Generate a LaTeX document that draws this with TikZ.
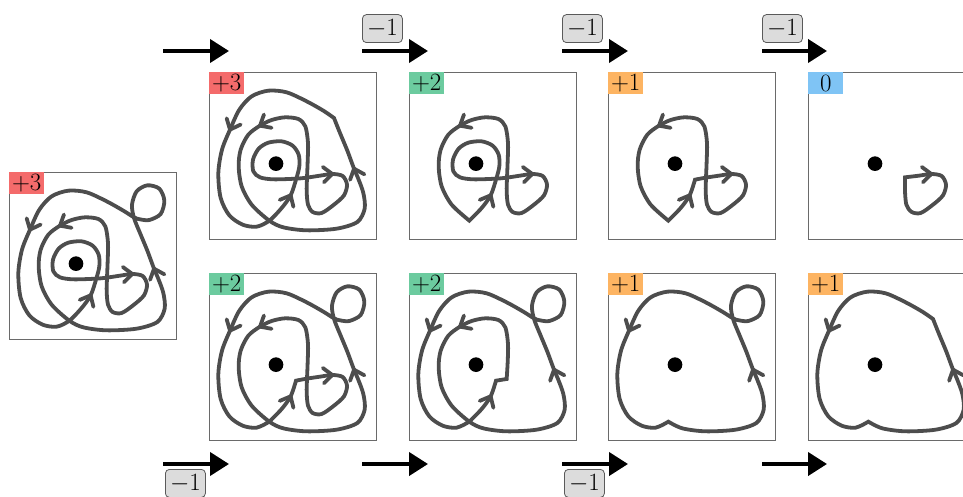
\documentclass[tikz,border=0pt]{standalone}
\usetikzlibrary{arrows.meta}

\definecolor{knotgray}{HTML}{4D4D4D}
\definecolor{boxgray}{HTML}{6A6A6A}
\definecolor{labred}{HTML}{F46B6B}
\definecolor{labgreen}{HTML}{6CCB9F}
\definecolor{laborange}{HTML}{FDB462}
\definecolor{labblue}{HTML}{7FC4F5}
\definecolor{decfill}{HTML}{DCDCDC}
\definecolor{decborder}{HTML}{5A5A5A}

\tikzset{
  knot/.style={draw=knotgray, line width=3.8pt, line join=miter, line cap=round},
  panel/.style={draw=boxgray, line width=1pt, minimum size=167pt, inner sep=0pt, anchor=north west},
  tag/.style={anchor=north west, inner sep=0pt, minimum width=35pt, minimum height=22pt,
    font=\fontsize{25}{25}\selectfont},
  dec/.style={draw=decborder, fill=decfill, rounded corners=4pt, inner sep=0pt,
    minimum width=40pt, minimum height=28pt, line width=0.8pt, font=\fontsize{25}{25}\selectfont},
  bigarrow/.style={line width=4pt, -{Triangle[length=19pt, width=23pt]}},
  local/.style={x=0.33333pt, y=-0.33333pt}
}

% pieces of the closed curve, in local panel units (box from (27,22) to (528,525))
\def\Bp{(208,468)}
\def\Tp{(402,160)}
\def\Pp{(288,345)}
\def\pRise{(245,430) (272,392) (288,345)}
\def\pInner{(298,305) (296,270) (278,243) (245,230) (205,234) (176,252) (159,285) (160,320) (180,338) (220,344) (288,342)}
\def\pRight{(320,339) (360,333) (397,328) (428,334) (441,360) (432,392) (402,420) (365,445) (338,442) (324,420) (320,380) (321,340)}
\def\pMid{(323,290) (324,235) (316,185) (295,163) (255,158) (215,166) (180,183) (145,210) (122,255) (116,305) (125,365) (155,420) (208,468)}
\def\pBot{(250,488) (320,497) (410,492) (472,472) (494,432) (490,385) (474,340) (462,312) (442,258) (420,205) (402,160)}
\def\pCurl{(396,120) (410,80) (442,62) (478,72) (493,108) (482,148) (448,166) (420,164) (402,158)}
\def\pOut{(370,138) (320,110) (260,83) (205,78) (155,95) (118,135) (90,195) (66,255) (55,325) (62,400) (88,452) (128,480) (170,486)}

\newcommand\knotpath[1]{\edef\knottmp{\noexpand\draw[knot] #1;}\knottmp}
% open arrowhead on the curve: tip position and direction (angle measured with y pointing down)
\newcommand\chev[3]{\draw[knot, shift={(#1,#2)}, rotate=-#3] (-27,-23) -- (0,0) -- (-27,23);}
\newcommand\chevOut{\chev{90}{195}{114}}
\newcommand\chevMid{\chev{180}{183}{150}}
\newcommand\chevRise{\chev{272}{392}{-63}}
\newcommand\chevBot{\chev{462}{312}{-111}}
\newcommand\chevRight{\chev{397}{328}{-4}}
\newcommand\centerdot{\fill (228,297) circle[radius=22];}

\begin{document}
\begin{tikzpicture}[x=1pt, y=-1pt]
\clip (0,0) rectangle (963,497);
\useasboundingbox (0,0) rectangle (963,497);

% panel frames
\node[panel] (pL) at (9,172) {};
\node[panel] (t1) at (209,72) {};
\node[panel] (t2) at (409,72) {};
\node[panel] (t3) at (608,72) {};
\node[panel] (t4) at (808,72) {};
\node[panel] (b1) at (209,273) {};
\node[panel] (b2) at (409,273) {};
\node[panel] (b3) at (608,273) {};
\node[panel] (b4) at (808,273) {};

% winding tags
\node[tag, fill=labred] at (pL.north west) {$+3$};
\node[tag, fill=labred] at (t1.north west) {$+3$};
\node[tag, fill=labgreen] at (t2.north west) {$+2$};
\node[tag, fill=laborange] at (t3.north west) {$+1$};
\node[tag, fill=labblue] at (t4.north west) {$0$};
\node[tag, fill=labgreen] at (b1.north west) {$+2$};
\node[tag, fill=labgreen] at (b2.north west) {$+2$};
\node[tag, fill=laborange] at (b3.north west) {$+1$};
\node[tag, fill=laborange] at (b4.north west) {$+1$};

% full curve
\begin{scope}[shift={(0,164.667)}, local]
  \knotpath{plot[smooth cycle] coordinates {\Bp\pRise\pInner\pRight\pMid\pBot\pCurl\pOut}}
  \chevOut \chevMid \chevRise \chevBot \chevRight \centerdot
\end{scope}

% top row
\begin{scope}[shift={(200,64.667)}, local]
  \knotpath{plot[smooth] coordinates {\Tp\pOut\Bp\pRise\pInner\pRight\pMid\pBot} -- cycle}
  \chevOut \chevMid \chevRise \chevBot \chevRight \centerdot
\end{scope}
\begin{scope}[shift={(400,64.667)}, local]
  \knotpath{plot[smooth] coordinates {\Bp\pRise\pInner\pRight\pMid} -- cycle}
  \chevMid \chevRise \chevRight \centerdot
\end{scope}
\begin{scope}[shift={(599,64.667)}, local]
  \knotpath{plot[smooth] coordinates {\Bp\pRise} -- plot[smooth] coordinates {\Pp\pRight\pMid} -- cycle}
  \chevMid \chevRise \chevRight \centerdot
\end{scope}
\begin{scope}[shift={(799,64.667)}, local]
  \draw[knot] plot[smooth] coordinates {(318,338) (360,333) (397,328) (428,334) (441,360) (432,392) (402,420) (365,445) (338,442) (322,420) (318,380)} -- cycle;
  \chevRight \centerdot
\end{scope}

% bottom row
\begin{scope}[shift={(200,265.667)}, local]
  \knotpath{plot[smooth] coordinates {\Bp\pRise} -- plot[smooth] coordinates {\Pp\pRight\pMid\pBot\pCurl\pOut\Bp} -- cycle}
  \chevOut \chevMid \chevRise \chevBot \chevRight \centerdot
\end{scope}
\begin{scope}[shift={(400,265.667)}, local]
  \knotpath{plot[smooth] coordinates {\Bp\pRise} -- (320,340) -- plot[smooth] coordinates {(320,340)\pMid\pBot\pCurl\pOut\Bp} -- cycle}
  \chevOut \chevMid \chevRise \chevBot \centerdot
\end{scope}
\begin{scope}[shift={(599,265.667)}, local]
  \knotpath{plot[smooth] coordinates {\Bp\pBot\pCurl\pOut\Bp} -- cycle}
  \chevOut \chevBot \centerdot
\end{scope}
\begin{scope}[shift={(799,265.667)}, local]
  \knotpath{plot[smooth] coordinates {\Bp\pBot} -- plot[smooth] coordinates {\Tp\pOut\Bp} -- cycle}
  \chevOut \chevBot \centerdot
\end{scope}

% step arrows
\coordinate (ta1) at (163,51); \coordinate (tb1) at (229,51);
\coordinate (ta2) at (362,51); \coordinate (tb2) at (428,51);
\coordinate (ta3) at (562,51); \coordinate (tb3) at (628,51);
\coordinate (ta4) at (762,51); \coordinate (tb4) at (827,51);
\coordinate (ba1) at (163,464); \coordinate (bb1) at (229,464);
\coordinate (ba2) at (362,464); \coordinate (bb2) at (428,464);
\coordinate (ba3) at (562,464); \coordinate (bb3) at (628,464);
\coordinate (ba4) at (762,464); \coordinate (bb4) at (827,464);

\draw[bigarrow] (ta1) -- (tb1);
\draw[bigarrow] (ta2) -- (tb2);
\draw[bigarrow] (ta3) -- (tb3);
\draw[bigarrow] (ta4) -- (tb4);
\draw[bigarrow] (ba1) -- (bb1);
\draw[bigarrow] (ba2) -- (bb2);
\draw[bigarrow] (ba3) -- (bb3);
\draw[bigarrow] (ba4) -- (bb4);

\node[dec, anchor=south west] at ([yshift=8pt]ta2) {$-1$};
\node[dec, anchor=south west] at ([yshift=8pt]ta3) {$-1$};
\node[dec, anchor=south west] at ([yshift=8pt]ta4) {$-1$};
\node[dec, anchor=north west] at ([xshift=2pt,yshift=-5pt]ba1) {$-1$};
\node[dec, anchor=north west] at ([xshift=2pt,yshift=-5pt]ba3) {$-1$};
\end{tikzpicture}
\end{document}
